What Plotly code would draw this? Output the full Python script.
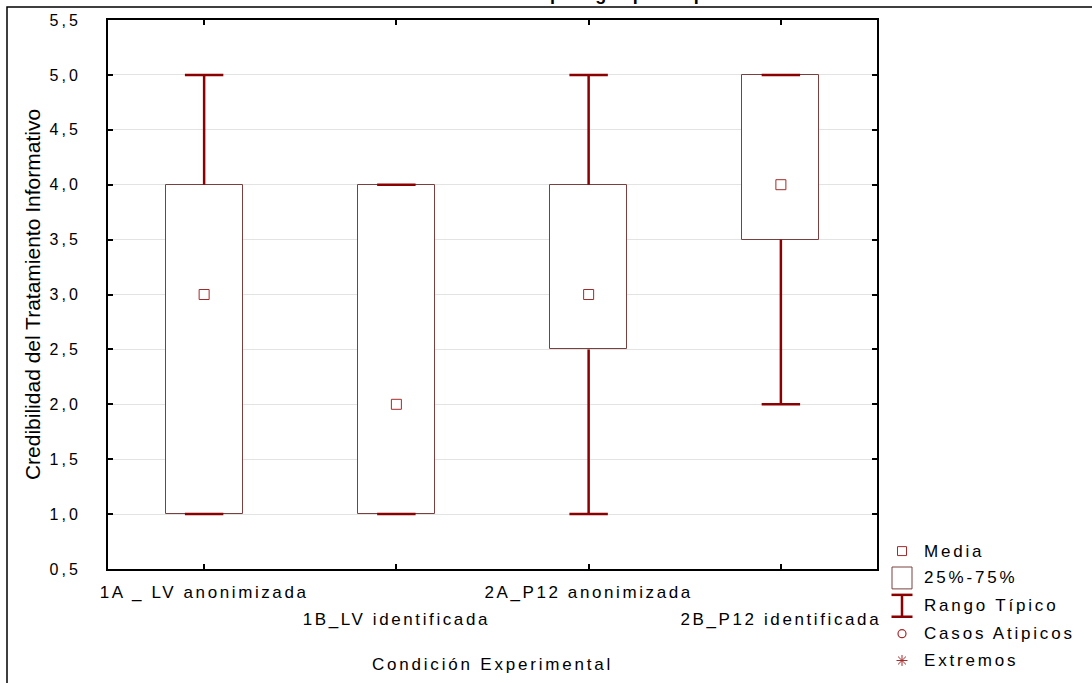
import plotly.graph_objects as go

# ---------------- data ----------------
groups = ["1A _ LV anonimizada", "1B_LV identificada", "2A_P12 anonimizada", "2B_P12 identificada"]
medians = [3.0, 2.0, 3.0, 4.0]
q1 = [1.0, 1.0, 2.5, 3.5]
q3 = [4.0, 4.0, 4.0, 5.0]
whisk_lo = [1.0, 1.0, 1.0, 2.0]
whisk_hi = [5.0, 4.0, 5.0, 5.0]
legend_labels = ["Media", "25%-75%", "Rango Típico", "Casos Atipicos", "Extremos"]
title_text = "Nivel de credibilidad por grupo experimental"
y_title = "Credibilidad del Tratamiento Informativo"
x_title = "Condición Experimental"

# ---------------- style ----------------
W, H = 1092, 683
L, R, T, B = 108, 877, 19, 571
FONT = "Liberation Sans, Arial, sans-serif"
WHISK = "#8B0000"
BOXLINE = "#7a4040"
MEANC = "#a52a2a"
CAP = 0.1
BOXW = 0.4

def xp(px):
    return (px - L) / (R - L)

def yp(py):
    return (B - py) / (B - T)

idx = list(range(len(groups)))

fig = go.Figure()

# boxes (25%-75%)
fig.add_trace(go.Bar(
    x=idx, y=[b - a for a, b in zip(q1, q3)], base=q1, width=BOXW,
    marker=dict(color="white", line=dict(color=BOXLINE, width=1)),
    showlegend=False, hoverinfo="skip"))

# whiskers + caps
wx, wy = [], []
for i, lo, a, b, hi in zip(idx, whisk_lo, q1, q3, whisk_hi):
    wx += [i, i, None, i, i, None, i - CAP, i + CAP, None, i - CAP, i + CAP, None]
    wy += [lo, a, None, b, hi, None, lo, lo, None, hi, hi, None]
fig.add_trace(go.Scatter(x=wx, y=wy, mode="lines",
                         line=dict(color=WHISK, width=2.5),
                         showlegend=False, hoverinfo="skip"))

# medians
fig.add_trace(go.Scatter(x=idx, y=medians, mode="markers",
                         marker=dict(symbol="square-open", size=10, color=MEANC,
                                     line=dict(width=1, color=MEANC)),
                         showlegend=False))

# dummy trace for second-row x labels
fig.add_trace(go.Scatter(x=[idx[1], idx[3]], y=[None, None], xaxis="x2",
                         showlegend=False, hoverinfo="skip"))

tickfont = dict(family=FONT, size=17, color="black")

fig.update_layout(
    width=W, height=H, autosize=False,
    margin=dict(l=L, r=W - R, t=T, b=H - B, pad=0),
    paper_bgcolor="white", plot_bgcolor="white",
    separators=", ",
    showlegend=False,
    bargap=0,
    xaxis=dict(range=[-0.5, 3.5], tickvals=idx,
               ticktext=[groups[0], "", groups[2], ""],
               ticks="inside", ticklen=5, tickwidth=2, tickcolor="black",
               showline=True, linewidth=2, linecolor="black", mirror="ticks",
               showgrid=False, zeroline=False, tickfont=tickfont,
               ticklabelstandoff=7,
               title=dict(text=x_title, font=dict(family=FONT, size=17, color="black"),
                          standoff=57)),
    xaxis2=dict(range=[-0.5, 3.5], overlaying="x", side="bottom",
                tickvals=[idx[1], idx[3]], ticktext=[groups[1], groups[3]],
                ticks="", showline=False, showgrid=False, zeroline=False,
                tickfont=tickfont, ticklabelstandoff=38),
    yaxis=dict(range=[0.5, 5.5], dtick=0.5, tick0=0.5, tickformat=".1f",
               ticks="inside", ticklen=5, tickwidth=2, tickcolor="black",
               showline=True, linewidth=2, linecolor="black", mirror="ticks",
               showgrid=True, gridcolor="#e3e3e3", gridwidth=1, zeroline=False,
               tickfont=dict(family=FONT, size=16, color="black"), ticklabelstandoff=22,
               title=dict(text=y_title, font=dict(family=FONT, size=21, color="black"),
                          standoff=12)),
)

shapes = []
# outer frame (cut by the page edges)
shapes.append(dict(type="rect", xref="paper", yref="paper",
                   x0=xp(7), x1=xp(1110), y0=yp(700), y1=yp(6),
                   line=dict(color="black", width=1.5), layer="above"))

# legend glyphs
lx = 902
ly = [553, 580, 608, 636, 663]
shapes.append(dict(type="rect", xref="paper", yref="paper",
                   x0=xp(lx - 4.5), x1=xp(lx + 4.5), y0=yp(ly[0] + 4.5), y1=yp(ly[0] - 4.5),
                   line=dict(color=MEANC, width=1)))
shapes.append(dict(type="rect", xref="paper", yref="paper",
                   x0=xp(lx - 10), x1=xp(lx + 10), y0=yp(ly[1] + 11), y1=yp(ly[1] - 11),
                   line=dict(color=BOXLINE, width=1)))
for yy in (ly[2] - 11, ly[2] + 11):
    shapes.append(dict(type="line", xref="paper", yref="paper",
                       x0=xp(lx - 10.5), x1=xp(lx + 10.5), y0=yp(yy), y1=yp(yy),
                       line=dict(color=WHISK, width=2.5)))
shapes.append(dict(type="line", xref="paper", yref="paper",
                   x0=xp(lx), x1=xp(lx), y0=yp(ly[2] - 11), y1=yp(ly[2] + 11),
                   line=dict(color=WHISK, width=2.5)))
shapes.append(dict(type="circle", xref="paper", yref="paper",
                   x0=xp(lx - 4), x1=xp(lx + 4), y0=yp(ly[3] + 4), y1=yp(ly[3] - 4),
                   line=dict(color=MEANC, width=1.2)))
s = 5.5
for dx, dy in ((0, s), (s, 0), (s * 0.72, s * 0.72), (s * 0.72, -s * 0.72)):
    shapes.append(dict(type="line", xref="paper", yref="paper",
                       x0=xp(lx - dx), x1=xp(lx + dx), y0=yp(ly[4] - dy), y1=yp(ly[4] + dy),
                       line=dict(color=MEANC, width=1)))
fig.update_layout(shapes=shapes)

annotations = []
for lab, yy in zip(legend_labels, ly):
    annotations.append(dict(text=lab, xref="paper", yref="paper", x=xp(922), y=yp(yy),
                            xanchor="left", yanchor="middle", align="left", showarrow=False,
                            font=dict(family=FONT, size=17, color="black")))
annotations.append(dict(text="<b>" + title_text + "</b>", xref="paper", yref="paper",
                        x=xp(560), y=yp(5), xanchor="center", yanchor="bottom",
                        showarrow=False, font=dict(family=FONT, size=18, color="black")))
fig.update_layout(annotations=annotations)

post = """
document.body.style.margin = '0';
document.body.style.overflow = 'hidden';
var gd = document.getElementById('{plot_id}');
function sp(){
  gd.querySelectorAll('.xtick text, .x2tick text').forEach(function(t){t.style.letterSpacing='2.6px';});
  gd.querySelectorAll('.ytick text').forEach(function(t){t.style.letterSpacing='3px';});
  gd.querySelectorAll('text.xtitle').forEach(function(t){t.style.letterSpacing='2.8px';});
  gd.querySelectorAll('text.annotation-text').forEach(function(t){t.style.letterSpacing='2.8px';});
}
sp();
gd.on && gd.on('plotly_afterplot', sp);
"""
fig.write_html("out.html", post_script=post, config={"displayModeBar": False})
